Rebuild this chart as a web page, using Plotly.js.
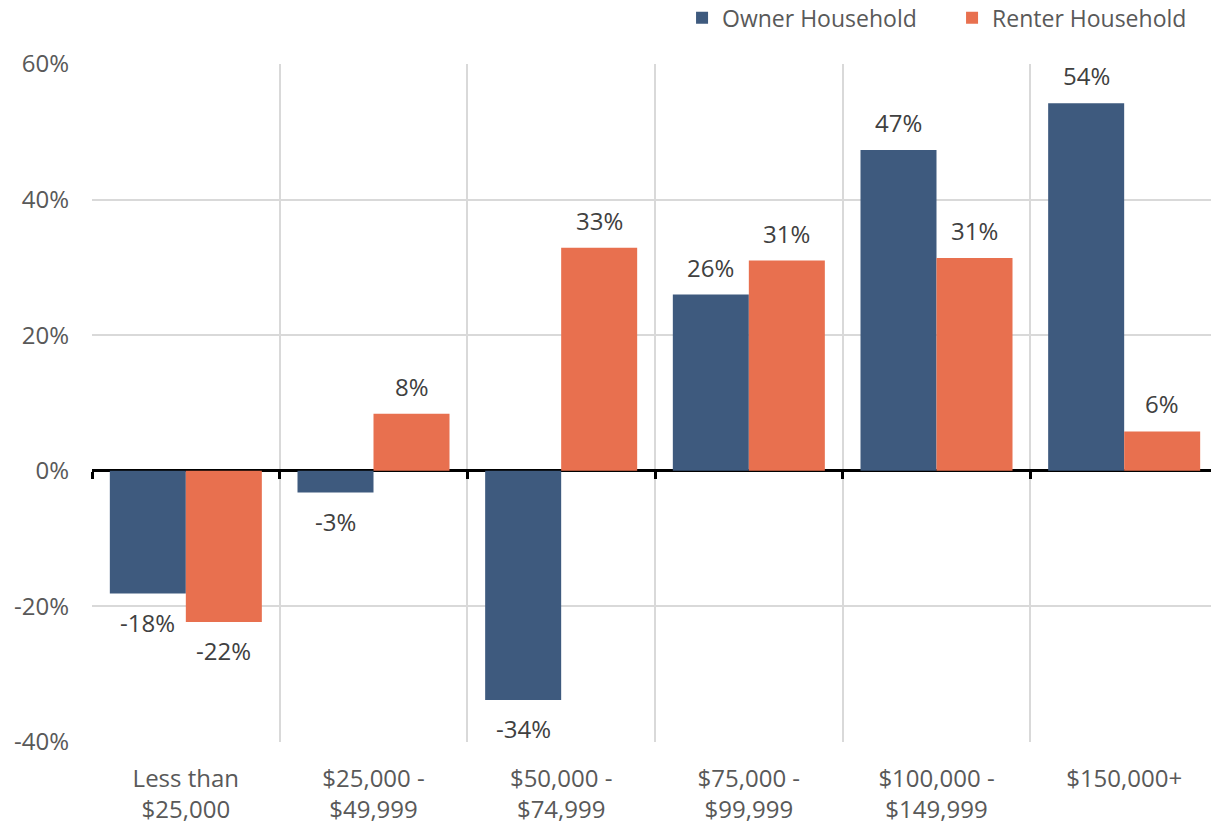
<!DOCTYPE html>
<html>
<head>
<meta charset="utf-8">
<script src="https://cdn.plot.ly/plotly-3.0.1.min.js"></script>
<style>
html,body{margin:0;padding:0;overflow:hidden;background:#fff;}
#chart{width:1218px;height:824px;}
</style>
</head>
<body>
<div id="chart"></div>
<script>
const categories = ["Less than<br>$25,000", "$25,000 -<br>$49,999", "$50,000 -<br>$74,999", "$75,000 -<br>$99,999", "$100,000 -<br>$149,999", "$150,000+"];
const ownerValues = [-18.1, -3.2, -33.8, 26.0, 47.3, 54.2];
const renterValues = [-22.3, 8.4, 32.9, 31.0, 31.4, 5.8];
const seriesNames = ["Owner Household", "Renter Household"];
const yTicks = [-40, -20, 0, 20, 40, 60];
const yTickLabels = ["-40%", "-20%", "0%", "20%", "40%", "60%"];

const FONT = "Open Sans, Noto Sans, sans-serif";
const ownerColor = "#3e5a7e";
const renterColor = "#e8704f";

const traces = [
  {type: "bar", name: seriesNames[0], x: categories, y: ownerValues, marker: {color: ownerColor}, hoverinfo: "none"},
  {type: "bar", name: seriesNames[1], x: categories, y: renterValues, marker: {color: renterColor}, hoverinfo: "none"},
  {type: "scatter", x: [], y: [], xaxis: "x2", showlegend: false, hoverinfo: "skip"}
];

const bargap = 0.19;
const plotW = 1218 - 92;
const barPx = plotW / categories.length * (1 - bargap) / 2;
const annotations = [];
[ownerValues, renterValues].forEach((vals, s) => {
  vals.forEach((v, i) => {
    const r = Math.round(v);
    annotations.push({
      x: categories[i], y: v, xref: "x", yref: "y",
      text: (r < 0 ? "-" + Math.abs(r) : r) + "%", showarrow: false,
      xshift: (s === 0 ? -1 : 1) * barPx / 2,
      yanchor: v >= 0 ? "bottom" : "top",
      yshift: v >= 0 ? 9 : -10,
      font: {family: FONT, size: 24, color: "#404040"}
    });
  });
});

const layout = {
  width: 1218, height: 824,
  margin: {l: 92, r: 0, t: 64, b: 82, autoexpand: false},
  paper_bgcolor: "#fff", plot_bgcolor: "#fff",
  font: {family: FONT, size: 24, color: "#595959"},
  barmode: "group", bargap: bargap, bargroupgap: 0,
  showlegend: true,
  legend: {orientation: "h", x: 1.0036, xanchor: "right", y: 1.1, yanchor: "top",
           entrywidth: 225, entrywidthmode: "pixels",
           font: {family: FONT, size: 23, color: "#595959"}, traceorder: "normal"},
  xaxis: {type: "category", tickson: "boundaries", showgrid: true, gridcolor: "#d9d9d9", gridwidth: 2,
          ticks: "", showline: false, zeroline: false, tickfont: {family: FONT, size: 24, color: "#595959"},
          ticklabelstandoff: 20, fixedrange: true},
  xaxis2: {overlaying: "x", anchor: "free", position: 0.4, range: [-0.5, categories.length - 0.5],
           tickmode: "array", tickvals: categories.map((c, i) => i - 0.5), ticks: "outside",
           ticklen: 7, tickwidth: 3, tickcolor: "#000", showticklabels: false, showgrid: false,
           showline: false, zeroline: false, fixedrange: true},
  yaxis: {range: [-40, 60], tickmode: "array", tickvals: yTicks, ticktext: yTickLabels,
          showgrid: true, gridcolor: "#d9d9d9", gridwidth: 2,
          zeroline: true, zerolinecolor: "#000", zerolinewidth: 3,
          ticks: "", ticklabelstandoff: 22, showline: false,
          tickfont: {family: FONT, size: 24, color: "#595959"}, fixedrange: true},
  annotations: annotations
};

Plotly.newPlot("chart", traces, layout, {displayModeBar: false, staticPlot: true});
</script>
</body>
</html>
